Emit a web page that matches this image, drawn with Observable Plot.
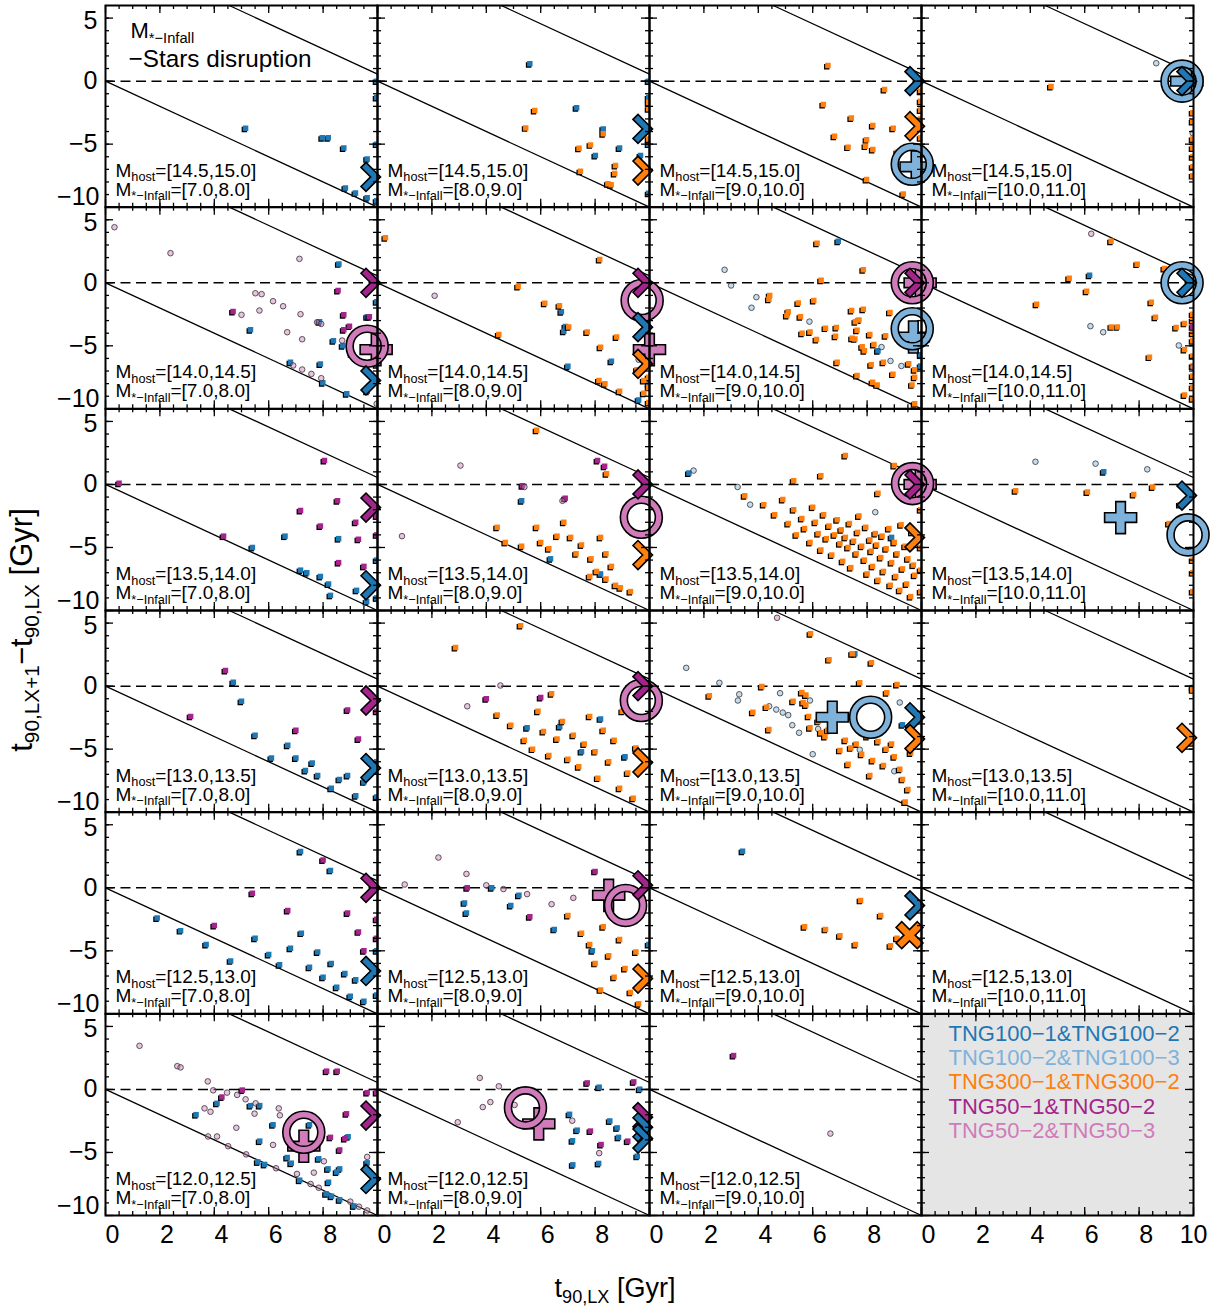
<!DOCTYPE html>
<html><head><meta charset="utf-8">
<script src="https://cdn.jsdelivr.net/npm/d3@7"></script>
<script src="https://cdn.jsdelivr.net/npm/@observablehq/plot@0.6"></script>
<style>html,body{margin:0;padding:0;background:#fff;} #chart svg{display:block;}</style>
</head><body><div id="chart"></div>
<script>
// ---------------- labels ----------------
const hostBins = ["[14.5,15.0]","[14.0,14.5]","[13.5,14.0]","[13.0,13.5]","[12.5,13.0]","[12.0,12.5]"];
const infallBins = ["[7.0,8.0]","[8.0,9.0]","[9.0,10.0]","[10.0,11.0]"];
const seriesNames = ["TNG100−1&TNG100−2","TNG100−2&TNG100−3","TNG300−1&TNG300−2","TNG50−1&TNG50−2","TNG50−2&TNG50−3"];
const xDomain = [0, 10];
const yDomain = [-10, 6];
const diagOffsets = [0, 10.55];
const xMajor = [0, 2, 4, 6, 8, 10];
const yMajor = [-10, -5, 0, 5];

// ---------------- data: [col, row, t90_LX, delta] ----------------
const tng100_12 = [
 [0,0,5.15,-3.74],[0,0,7.97,-4.5],[0,0,8.19,-4.5],[0,0,8.76,-5.3],[0,0,9.62,-6.17],[0,0,8.82,-8.47],[0,0,9.19,-8.87],[0,0,9.62,-9.26],[0,0,9.97,0],[0,0,9.97,-1.3],[0,0,9.97,-5.0],[0,0,9.97,-9.5],
 [1,0,5.6,1.37],[1,0,7.32,-2.12],[1,0,8.3,-3.79],[1,0,8.9,-5.3],[1,0,8.01,-5.9],[1,0,9.67,-5.9],[1,0,9.97,0],[1,0,9.97,-1.3],[1,0,9.97,-5.0],[1,0,9.97,-8.9],
 [0,1,8.58,1.5],[0,1,5.33,-3.73],[0,1,7.87,-3.1],[0,1,8.38,-4.6],[0,1,8.72,-5.0],[0,1,9.05,-5.64],[0,1,9.62,-2.7],[0,1,6.8,-6.3],[0,1,7.9,-6.45],[0,1,7.99,-7.94],[0,1,8.87,-8.81],[0,1,9.62,-8.6],[0,1,9.97,-1.5],[0,1,9.97,-6.5],
 [1,1,6.76,-2.3],[1,1,6.91,-3.47],[1,1,6.85,-3.84],[1,1,8.6,-6.22],[1,1,7.0,-6.62],[1,1,9.6,-9.29],[1,1,9.97,-2.6],[1,1,9.97,-3.1],[1,1,9.97,-8.0],
 [2,1,6.94,3.3],[2,1,8.4,-5.4],[2,1,9.97,-5.7],[2,1,9.97,-6.6],
 [3,1,6.18,0.6],
 [0,2,5.4,-5.0],[0,2,6.6,-4.1],[0,2,8.57,-4.3],[0,2,7.17,-6.8],[0,2,7.4,-7.0],[0,2,7.9,-7.3],[0,2,8.2,-7.9],[0,2,9.23,-8.4],[0,2,8.27,-8.8],[0,2,9.6,-9.3],[0,2,9.97,-6.0],[0,2,9.97,-9.0],
 [1,2,6.36,-5.9],[1,2,8.2,-7.1],[1,2,5.3,-1.3],
 [2,2,8.9,-4.2],[2,2,1.45,0.9],
 [3,2,6.7,1.0],
 [0,3,4.7,0.3],[0,3,5.0,-1.2],[0,3,5.5,-3.9],[0,3,6.1,-5.7],[0,3,6.7,-4.7],[0,3,7.0,-5.7],[0,3,7.35,-6.7],[0,3,7.6,-6.1],[0,3,7.8,-7.1],[0,3,8.3,-8.1],[0,3,8.6,-7.4],[0,3,8.9,-7.1],[0,3,9.2,-8.7],[0,3,9.5,-7.6],[0,3,9.97,-6.0],[0,3,9.97,-8.8],
 [1,3,6.7,-3.2],[1,3,7.5,-5.2],[1,3,8.2,-2.6],[1,3,9.1,-5.6],[1,3,5.5,-3.3],
 [2,3,7.55,2.56],[2,3,9.3,-3.07],
 [3,3,9.97,-0.1],
 [0,4,7.17,2.88],[0,4,8.27,1.38],[0,4,1.9,-2.4],[0,4,2.76,-3.4],[0,4,3.7,-4.5],[0,4,4.6,-5.8],[0,4,5.5,-4.0],[0,4,6.0,-5.3],[0,4,6.4,-6.1],[0,4,6.8,-4.8],[0,4,7.2,-3.6],[0,4,7.5,-6.3],[0,4,7.8,-5.1],[0,4,8.0,-7.1],[0,4,8.3,-6.0],[0,4,8.5,-7.9],[0,4,8.8,-6.8],[0,4,9.0,-8.6],[0,4,9.2,-7.3],[0,4,9.5,-9.0],[0,4,9.97,-5],[0,4,9.97,-8.5],
 [1,4,3.2,-1.2],[1,4,3.27,-2.0],[1,4,4.2,0.0],[1,4,5.2,-0.6],[1,4,4.9,-1.4],[1,4,6.5,-3.3],[1,4,7.9,-5.0],[1,4,9.97,-4.5],
 [2,4,3.42,2.9],
 [0,5,3.33,-2.0],[0,5,4.1,-1.1],[0,5,5.33,-1.28],[0,5,5.67,-1.28],[0,5,6.16,-2.8],[0,5,5.67,-4.1],[0,5,5.6,-5.75],[0,5,5.85,-5.95],[0,5,6.68,-5.4],[0,5,6.83,-5.85],[0,5,7.14,-7.2],[0,5,7.84,-5.5],[0,5,8.18,-6.3],[0,5,8.2,-7.36],[0,5,8.5,-6.55],[0,5,8.61,-6.3],[0,5,8.11,-8.28],[0,5,8.31,-8.47],[0,5,8.61,-8.76],[0,5,8.92,-3.75],[0,5,9.13,-9.24],[0,5,9.62,-5.82],[0,5,7.5,-2.8],
 [1,5,8.15,0.18],[1,5,9.64,0.02],[1,5,7.06,-1.97],[1,5,7.34,-3.23],[1,5,7.17,-4.07],[1,5,8.54,-2.5],[1,5,8.81,-3.05],[1,5,8.86,-3.8],[1,5,7.18,-5.98],[1,5,8.13,-5.87],[1,5,9.55,-5.3]
];
const tng100_23 = [
 [3,0,8.63,1.42],[3,0,9.97,-4.13],
 [2,1,2.76,1.03],[2,1,3.0,-0.21],[2,1,3.93,-1.14],[2,1,3.75,-1.98],[2,1,5.88,-3.08],[2,1,8.53,-5.1],[2,1,8.86,-6.2],[2,1,9.26,-6.6],
 [3,1,6.21,-3.44],[3,1,6.68,-3.92],[3,1,9.46,-4.97],
 [2,2,1.62,1.1],[2,2,3.24,-0.2],[2,2,3.7,-1.6],[2,2,8.3,-2.2],
 [3,2,4.19,1.8],[3,2,6.4,1.65],[3,2,8.3,1.2],
 [2,3,1.35,1.45],[2,3,2.57,0.26],[2,3,3.3,-0.65],[2,3,3.25,-1.14],[2,3,4.8,-0.56],[2,3,5.9,-1.14],[2,3,4.4,-1.6],[2,3,4.66,-1.86],[2,3,4.9,-2.1],[2,3,5.1,-2.3],[2,3,5.25,-3.1],[2,3,5.5,-3.7],[2,3,6.0,-5.4],[2,3,6.2,-3.4],[2,3,9.2,-1.3],[2,3,9.0,-6.75],[2,3,7.73,-5.05]
];
const tng300 = [
 [1,0,5.78,-2.33],[1,0,5.45,-3.71],[1,0,8.3,-4.18],[1,0,7.41,-5.32],[1,0,7.83,-5.06],[1,0,7.46,-7.15],[1,0,8.75,-6.7],[1,0,8.72,-7.33],[1,0,8.47,-8.15],[1,0,8.59,-8.23],[1,0,9.97,-1.7],[1,0,9.97,-2.2],[1,0,9.97,-4.6],
 [2,0,6.56,1.24],[2,0,8.64,-0.67],[2,0,6.39,-1.86],[2,0,7.42,-2.92],[2,0,8.21,-3.52],[2,0,8.96,-3.74],[2,0,6.8,-4.37],[2,0,7.98,-4.66],[2,0,7.3,-5.24],[2,0,7.94,-5.16],[2,0,8.21,-5.43],[2,0,9.11,-5.64],[2,0,7.98,-7.81],[2,0,9.33,-8.95],[2,0,9.97,-0.8],[2,0,9.97,-1.6],[2,0,9.97,-2.3],[2,0,9.97,-3.0],[2,0,9.97,-4.5],
 [3,0,4.76,-0.43],[3,0,9.97,-2.5],[3,0,9.97,-3.2],[3,0,9.97,-4.6],[3,0,9.97,-5.3],[3,0,9.97,-6.0],[3,0,9.97,-6.8],[3,0,9.97,-7.5],
 [1,1,0.29,3.57],[1,1,8.17,1.85],[1,1,5.17,-0.29],[1,1,6.15,-1.62],[1,1,6.69,-1.83],[1,1,7.03,-3.5],[1,1,4.46,-4.1],[1,1,7.71,-3.9],[1,1,8.79,-4.3],[1,1,8.2,-5.11],[1,1,8.14,-7.75],[1,1,8.36,-8.01],[1,1,8.9,-8.6],[1,1,9.79,-8.76],[1,1,9.54,-6.9],[1,1,9.79,-7.75],[1,1,9.97,-7.5],[1,1,9.97,-8.3],[1,1,9.97,-9.5],
 [2,1,6.16,3.14],[2,1,7.86,1.03],[2,1,6.31,0.2],[2,1,4.42,-1.0],[2,1,4.39,-1.3],[2,1,5.47,-1.6],[2,1,6.04,-1.4],[2,1,5.1,-2.3],[2,1,5.05,-2.6],[2,1,5.55,-2.7],[2,1,7.43,-2.2],[2,1,7.86,-2.1],[2,1,8.84,-2.35],[2,1,7.57,-3.1],[2,1,7.7,-2.95],[2,1,5.61,-4.0],[2,1,5.9,-3.9],[2,1,6.14,-4.5],[2,1,6.47,-3.6],[2,1,6.87,-3.55],[2,1,6.84,-4.25],[2,1,7.63,-3.76],[2,1,7.45,-4.4],[2,1,7.55,-4.45],[2,1,8.1,-4.1],[2,1,8.25,-4.9],[2,1,7.82,-5.08],[2,1,7.9,-5.4],[2,1,8.68,-4.2],[2,1,8.6,-6.3],[2,1,8.15,-6.5],[2,1,6.9,-6.3],[2,1,8.95,-7.25],[2,1,7.63,-7.36],[2,1,8.2,-7.9],[2,1,8.37,-8.1],[2,1,9.53,-6.43],[2,1,9.75,-6.9],[2,1,9.75,-7.5],[2,1,9.65,-8.1],[2,1,9.75,-9.6],
 [3,1,6.97,3.3],[3,1,7.93,1.48],[3,1,8.93,1.13],[3,1,5.43,0.37],[3,1,6.07,-0.67],[3,1,4.23,-1.7],[3,1,8.45,-1.55],[3,1,8.6,-2.74],[3,1,6.98,-3.5],[3,1,7.2,-3.5],[3,1,9.36,-3.55],[3,1,9.67,-3.22],[3,1,9.67,-5.3],[3,1,8.38,-5.9],[3,1,9.67,-8.9],[3,1,9.97,-2.5],[3,1,9.97,-3.0],[3,1,9.97,-4.0],[3,1,9.97,-4.6],[3,1,9.97,-5.8],[3,1,9.97,-6.6],[3,1,9.97,-7.4],[3,1,9.97,-8.3],[3,1,9.97,-9.2],
 [1,2,5.85,4.3],[1,2,8.42,0.85],[1,2,4.4,-3.4],[1,2,4.7,-4.6],[1,2,5.3,-4.9],[1,2,5.85,-3.4],[1,2,6.0,-4.6],[1,2,6.3,-5.1],[1,2,6.6,-4.1],[1,2,6.85,-3.0],[1,2,7.1,-4.2],[1,2,7.3,-5.5],[1,2,7.5,-4.8],[1,2,7.85,-5.9],[1,2,8.2,-4.2],[1,2,8.4,-5.5],[1,2,7.8,-7.3],[1,2,8.05,-6.9],[1,2,8.4,-7.5],[1,2,8.75,-8.0],[1,2,8.93,-8.2],[1,2,9.3,-8.5],[1,2,8.6,-6.5],
 [2,2,3.5,-0.9],[2,2,4.2,-1.6],[2,2,4.6,-2.4],[2,2,4.9,-1.2],[2,2,5.1,-3.1],[2,2,5.3,-2.0],[2,2,5.4,-4.0],[2,2,5.6,-2.7],[2,2,5.7,-3.5],[2,2,5.9,-4.6],[2,2,6.0,-1.8],[2,2,6.1,-3.0],[2,2,6.2,-3.9],[2,2,6.3,-5.2],[2,2,6.4,-2.4],[2,2,6.5,-4.3],[2,2,6.6,-3.3],[2,2,6.7,-5.6],[2,2,6.8,-4.0],[2,2,6.9,-2.8],[2,2,7.0,-4.7],[2,2,7.05,-3.6],[2,2,7.1,-6.1],[2,2,7.2,-4.2],[2,2,7.3,-5.0],[2,2,7.35,-3.1],[2,2,7.4,-6.6],[2,2,7.5,-4.5],[2,2,7.6,-5.5],[2,2,7.65,-3.8],[2,2,7.7,-2.5],[2,2,7.8,-4.9],[2,2,7.9,-6.0],[2,2,7.95,-3.4],[2,2,8.0,-7.1],[2,2,8.1,-4.4],[2,2,8.15,-5.3],[2,2,8.2,-6.5],[2,2,8.3,-3.9],[2,2,8.35,-4.8],[2,2,8.4,-7.6],[2,2,8.5,-5.8],[2,2,8.55,-4.1],[2,2,8.6,-6.9],[2,2,8.7,-5.1],[2,2,8.8,-3.5],[2,2,8.85,-8.0],[2,2,8.9,-6.2],[2,2,9.0,-4.6],[2,2,9.05,-7.3],[2,2,9.1,-5.5],[2,2,9.2,-8.4],[2,2,9.25,-3.2],[2,2,9.3,-6.7],[2,2,9.4,-4.9],[2,2,9.45,-7.9],[2,2,9.5,-5.9],[2,2,9.6,-8.9],[2,2,9.65,-3.8],[2,2,9.7,-6.4],[2,2,9.75,-7.2],[2,2,6.3,0.7],[2,2,7.2,2.3],[2,2,8.4,-0.7],[2,2,9.0,1.5],[2,2,5.3,0.3],[2,2,9.97,-2.0],[2,2,9.97,-5.0],[2,2,9.97,-6.8],[2,2,9.97,-8.5],
 [3,2,3.46,-0.5],[3,2,6.1,-0.6],[3,2,7.8,-0.8],[3,2,9.1,-3.1],[3,2,9.5,-1.6],[3,2,8.5,-0.2],[3,2,9.97,-6],[3,2,9.97,-7],[3,2,9.97,-8.5],
 [1,3,2.87,3.06],[1,3,5.26,4.8],[1,3,6.4,-0.6],[1,3,5.9,-2.0],[1,3,4.4,-2.3],[1,3,4.9,-3.1],[1,3,5.4,-4.3],[1,3,5.7,-5.0],[1,3,6.1,-3.6],[1,3,6.3,-5.5],[1,3,6.6,-4.2],[1,3,6.8,-2.8],[1,3,7.0,-5.8],[1,3,7.2,-3.9],[1,3,7.4,-6.4],[1,3,7.6,-4.6],[1,3,7.8,-2.4],[1,3,8.0,-5.2],[1,3,8.1,-7.3],[1,3,8.3,-3.5],[1,3,8.5,-6.0],[1,3,8.7,-4.3],[1,3,8.9,-8.1],[1,3,9.0,-2.0],[1,3,9.2,-6.9],[1,3,9.4,-8.9],[1,3,9.5,-4.9],
 [2,3,5.92,4.15],[2,3,7.45,2.56],[2,3,6.6,2.1],[2,3,8.16,1.85],[2,3,4.13,-0.03],[2,3,7.73,0.26],[2,3,9.1,0.13],[2,3,8.72,-0.53],[2,3,2.2,-0.77],[2,3,5.6,-0.5],[2,3,5.75,-0.7],[2,3,5.65,-1.3],[2,3,5.75,-1.5],[2,3,3.8,-2.07],[2,3,4.3,-1.67],[2,3,4.39,-3.44],[2,3,5.28,-1.2],[2,3,5.85,-2.4],[2,3,5.9,-3.3],[2,3,6.2,-2.8],[2,3,6.3,-3.7],[2,3,6.55,-3.5],[2,3,6.45,-4.0],[2,3,7.2,-4.3],[2,3,7.4,-4.9],[2,3,7.6,-4.6],[2,3,7.8,-5.4],[2,3,8.0,-4.0],[2,3,8.2,-5.9],[2,3,8.4,-4.4],[2,3,8.6,-6.3],[2,3,8.7,-5.0],[2,3,8.9,-4.6],[2,3,9.0,-5.6],[2,3,9.2,-6.6],[2,3,9.3,-7.4],[2,3,9.5,-8.2],[2,3,9.6,-5.3],[2,3,9.4,-9.2],[2,3,7.3,-6.2],[2,3,7.0,-5.1],[2,3,8.1,-7.1],
 [3,3,9.97,-0.3],[3,3,9.97,-4.5],
 [1,4,7.0,-2.2],[1,4,7.5,-3.6],[1,4,7.8,-4.5],[1,4,8.0,-6.0],[1,4,8.3,-3.1],[1,4,8.5,-5.4],[1,4,8.7,-7.1],[1,4,8.9,-4.1],[1,4,9.1,-6.4],[1,4,9.3,-8.3],[1,4,9.5,-5.1],[1,4,9.6,-9.2],[1,4,8.2,-8.1],[1,4,9.97,-7.5],
 [2,4,5.7,-3.1],[2,4,6.47,-3.3],[2,4,7.57,-4.5],[2,4,7.76,-1.0],[2,4,8.5,-2.2],[2,4,8.86,-4.6],[2,4,9.1,-4.0],[2,4,7.0,-3.8]
];
const tng50_12 = [
 [0,1,4.69,-2.28],[0,1,8.55,-0.61],[0,1,8.76,-2.54],[0,1,8.76,-3.73],[0,1,8.97,-3.44],[0,1,9.7,-2.7],
 [3,1,9.97,-3.5],
 [0,2,0.5,0.1],[0,2,8.05,1.9],[0,2,4.34,-4.1],[0,2,7.17,-2.07],[0,2,8.53,-1.3],[0,2,7.9,-3.3],[0,2,9.2,-3.0],[0,2,9.3,-4.35],[0,2,8.57,-6.2],[0,2,9.5,-6.5],[0,2,9.97,-2.5],[0,2,9.97,-4.0],
 [1,2,8.09,1.9],[1,2,8.35,1.45],[1,2,5.33,-0.1],[1,2,6.9,-1.1],
 [0,3,4.41,1.24],[0,3,3.13,-2.4],[0,3,8.9,-1.9],[0,3,9.3,-4.2],[0,3,7.0,-3.5],[0,3,9.97,-2.0],
 [1,3,6.0,-0.9],[1,3,4.0,-1.0],
 [0,4,8.0,2.2],[0,4,5.4,-0.44],[0,4,4.0,-3.0],[0,4,6.7,-1.8],[0,4,8.9,-2.0],[0,4,9.3,-3.5],[0,4,9.5,-5.0],[0,4,9.97,-2.5],[0,4,9.97,-4.0],
 [1,4,3.3,0.0],[1,4,5.6,-2.3],[1,4,8.0,1.3],
 [0,5,5.03,-0.05],[0,5,4.28,-0.6],[0,5,8.13,1.45],[0,5,8.52,1.45],[0,5,8.86,-1.93],[0,5,8.8,-3.9],[0,5,8.61,-4.8],[0,5,8.27,-3.8],[0,5,9.62,-0.25],[0,5,9.97,-0.25],
 [1,5,7.71,0.52],[1,5,9.42,0.6],[1,5,7.83,-3.3],[1,5,8.22,-4.37],[1,5,9.2,-4.1],
 [2,5,3.09,2.69]
];
const tng50_23 = [
 [0,1,0.33,4.41],[0,1,2.39,2.35],[0,1,7.13,1.9],[0,1,5.51,-0.83],[0,1,5.74,-0.9],[0,1,5.0,-2.54],[0,1,5.66,-2.2],[0,1,6.16,-1.46],[0,1,6.53,-1.86],[0,1,7.17,-2.49],[0,1,6.68,-3.92],[0,1,7.23,-4.48],[0,1,7.78,-3.13],[0,1,7.93,-3.26],[0,1,8.7,-4.58],[0,1,6.9,-6.56],[0,1,7.23,-6.88],[0,1,7.57,-7.23],[0,1,7.93,-7.57],[0,1,9.97,-9.6],
 [1,1,2.1,-1.03],[1,1,9.6,-6.1],
 [3,1,6.24,3.89],[3,1,9.97,-6.7],
 [1,2,3.05,1.5],[1,2,0.9,-4.1],[1,2,5.4,-0.2],[1,2,6.8,-1.3],
 [2,3,4.69,5.42],
 [1,3,4.52,0.05],[1,3,3.3,-1.6],
 [1,4,1.0,0.26],[1,4,2.24,2.4],[1,4,3.27,1.1],[1,4,4.0,0.2],[1,4,4.63,-0.1],[1,4,5.5,-0.5],[1,4,6.4,-1.3],[1,4,7.2,-0.8],
 [0,5,1.25,3.46],[0,5,2.64,1.85],[0,5,2.76,1.75],[0,5,3.76,0.64],[0,5,3.96,-0.07],[0,5,4.47,-0.25],[0,5,4.84,-0.43],[0,5,5.15,-0.78],[0,5,5.52,-1.1],[0,5,5.48,-1.92],[0,5,6.37,-1.5],[0,5,6.41,-2.05],[0,5,3.64,-1.5],[0,5,3.86,-1.77],[0,5,3.77,-3.73],[0,5,4.1,-3.73],[0,5,4.81,-3.04],[0,5,4.51,-4.5],[0,5,5.17,-5.15],[0,5,6.16,-4.4],[0,5,6.27,-6.25],[0,5,7.04,-6.7],[0,5,7.54,-7.5],[0,5,7.84,-7.8],[0,5,7.66,-6.6],[0,5,8.03,-5.7],[0,5,9.0,-8.9],[0,5,9.32,-9.3],[0,5,9.62,-9.6],[0,5,9.62,-5.35],
 [1,5,3.76,0.92],[1,5,4.46,0.25],[1,5,4.15,-1.0],[1,5,3.87,-1.4],[1,5,5.04,-1.23],[1,5,2.95,-2.6],[1,5,7.16,-2.48],[1,5,8.15,-5.05],
 [2,5,6.65,-3.5]
];
// summary markers
const chevrons = [ // [c, r, s, delta] at the right edge
 [0,0,0,-7.6],[1,0,0,-3.79],[1,0,2,-7.1],[2,0,0,0],[2,0,2,-3.58],[3,0,0,0],
 [0,1,3,0],[0,1,0,-7.75],[1,1,3,0],[1,1,0,-3.52],[1,1,2,-6.43],[2,1,3,0],[3,1,0,0],
 [0,2,3,-1.83],[0,2,0,-8.0],[1,2,3,0],[1,2,2,-5.6],[2,2,3,0],[2,2,2,-4.2],[3,2,0,-0.88],
 [0,3,3,-1.14],[0,3,0,-6.5],[1,3,3,0],[1,3,2,-6.06],[2,3,0,-2.47],[2,3,2,-4.2],[3,3,2,-4.1],
 [0,4,3,0],[0,4,0,-6.6],[1,4,3,0.2],[1,4,2,-7.2],[2,4,0,-1.4],
 [0,5,3,-2.07],[0,5,0,-7.1],[1,5,3,-2.2],[1,5,0,-3.0],[1,5,0,-3.9]
];
const rings = [ // [c, r, s, t90, delta]
 [2,0,1,9.66,-6.6],[3,0,1,9.58,0],[0,1,4,9.62,-5.03],[1,1,4,9.73,-1.4],[2,1,4,9.66,0],[2,1,1,9.66,-3.65],[3,1,1,9.58,0],
 [1,2,4,9.7,-2.6],[2,2,4,9.67,0.07],[3,2,1,9.8,-4.0],[1,3,4,9.7,-1.14],[2,3,1,8.13,-2.47],[1,4,4,9.12,-1.4],[0,5,4,7.29,-3.4],[1,5,4,5.44,-1.46]
];
const pluses = [ // [c, r, s, t90, delta]
 [2,0,1,9.8,-6.8],[3,0,1,9.75,0],[0,1,4,9.95,-5.3],[1,1,4,10.0,-5.3],[2,1,1,9.7,-4.3],[2,1,4,9.95,0],[2,2,4,9.95,0],
 [3,2,1,7.32,-2.63],[2,3,1,6.72,-2.47],[1,4,4,8.5,-0.6],[0,5,4,7.29,-4.5],[1,5,4,5.93,-2.73]
];
const crosses = [ // [c, r, s, t90, delta]
 [2,4,2,9.56,-3.76]
];

// ---------------- styles ----------------
const seriesColors = ["#1f77b4","#7fb2da","#ff7f0e","#a3248a","#d07bba"];
const seriesIsSquare = [true,false,true,true,false];
const W = 1227, H = 1306, mL = 105, mR = 34, mT = 5, mB = 91;
const pw = (W - mL - mR) / 4, ph = (H - mT - mB) / 6;
const FONT = "'Liberation Sans', Arial, Helvetica, sans-serif";

const cells = [];
for (let r = 0; r < 6; r++) for (let c = 0; c < 4; c++) cells.push({c, r});
const legendCell = {c: 3, r: 5};
const lineCells = cells.filter(d => !(d.c === legendCell.c && d.r === legendCell.r));
const diagData = lineCells.flatMap(cell => diagOffsets.map(k => {
  const x1 = Math.max(xDomain[0], k - yDomain[1]), x2 = Math.min(xDomain[1], k - yDomain[0]);
  return {...cell, x1, y1: k - x1, x2, y2: k - x2};
}));
const toRows = (arr, i) => arr.map(([c, r, x, y]) => ({c, r, x, y, s: seriesNames[i]}));
const series = [tng100_12, tng100_23, tng300, tng50_12, tng50_23].map(toRows);
const chevData = chevrons.map(([c, r, s, y]) => ({c, r, y, s: seriesNames[s]}));
const bigRows = arr => arr.map(([c, r, s, x, y]) => ({c, r, x, y, s: seriesNames[s]}));

// custom symbols
const chevronSym = {draw(ctx) {
  ctx.moveTo(-16.5, -9.5); ctx.lineTo(-11.5, -14.5); ctx.lineTo(3, 0); ctx.lineTo(-11.5, 14.5);
  ctx.lineTo(-16.5, 9.5); ctx.lineTo(-6.9, 0); ctx.closePath();
}};
const ringSym = {draw(ctx) {
  ctx.moveTo(21, 0); ctx.arc(0, 0, 21, 0, 2 * Math.PI);
  ctx.moveTo(14, 0); ctx.arc(0, 0, 14, 0, 2 * Math.PI, true); ctx.closePath();
}};
function plusPath(ctx, L, T, rot) {
  const pts = [[-T,-L],[T,-L],[T,-T],[L,-T],[L,T],[T,T],[T,L],[-T,L],[-T,T],[-L,T],[-L,-T],[-T,-T]];
  const c = Math.cos(rot), s = Math.sin(rot);
  pts.forEach(([x, y], i) => { const X = x * c - y * s, Y = x * s + y * c; i ? ctx.lineTo(X, Y) : ctx.moveTo(X, Y); });
  ctx.closePath();
}
const plusSym = {draw(ctx) { plusPath(ctx, 16, 4.8, 0); }};
const timesSym = {draw(ctx) { plusPath(ctx, 15, 4, Math.PI / 4); }};

const F = {fx: "c", fy: "r"};
const pointMarks = series.flatMap((d, i) => seriesIsSquare[i] ? [
  Plot.dot(d, {...F, x: "x", y: "y", symbol: "square", r: 3.1, fill: "black", dx: -1.2, dy: 1.2, clip: true}),
  Plot.dot(d, {...F, x: "x", y: "y", symbol: "square", r: 3.1, fill: "s", clip: true})
] : [
  Plot.dot(d, {...F, x: "x", y: "y", r: 2.8, fill: "s", fillOpacity: 0.45, stroke: "#333", strokeWidth: 0.8, clip: true})
]);

const fmt = v => v < 0 ? "\u2212" + Math.abs(v) : String(v);
const xLabelData = d3.range(4).flatMap(c => (c < 3 ? xMajor.slice(0, -1) : xMajor).map(v => ({c, r: 5, v})));
const yLabelData = d3.range(6).flatMap(r => yMajor.map(v => ({c: 0, r, v})));
const panelLabelCells = cells.filter(d => !(d.c === legendCell.c && d.r === legendCell.r));
const xMinor = d3.range(1, 20).map(i => i / 2);
const yMinor = d3.range(yDomain[0] + 1, yDomain[1]);
const tickStyle = {stroke: "black", strokeWidth: 1.3};
const legendText = seriesNames.join("|");

const plot = Plot.plot({
  width: W, height: H,
  marginLeft: mL, marginRight: mR, marginTop: mT, marginBottom: mB,
  style: `font-family: ${FONT}; overflow: visible; background: white;`,
  fx: {domain: d3.range(4), padding: 0, round: false, axis: null},
  fy: {domain: d3.range(6), padding: 0, round: false, axis: null},
  x: {domain: xDomain, axis: null},
  y: {domain: yDomain, axis: null},
  color: {domain: seriesNames, range: seriesColors},
  marks: [
    Plot.rect([legendCell], {...F, x1: () => xDomain[0], x2: () => xDomain[1], y1: () => yDomain[0], y2: () => yDomain[1], fill: "#e5e5e5"}),
    Plot.link(diagData, {...F, x1: "x1", y1: "y1", x2: "x2", y2: "y2", stroke: "black", strokeWidth: 1.3}),
    Plot.ruleY(lineCells, {...F, y: () => 0, stroke: "black", strokeWidth: 1.5, strokeDasharray: "10,5.5"}),
    ...pointMarks,
    Plot.dot(bigRows(pluses), {...F, x: "x", y: "y", symbol: plusSym, fill: "s", stroke: "black", strokeWidth: 1.6}),
    Plot.dot(bigRows(rings), {...F, x: "x", y: "y", symbol: ringSym, fill: "s", stroke: "black", strokeWidth: 1.6}),
    Plot.dot(chevData, {...F, x: () => xDomain[1], y: "y", symbol: chevronSym, fill: "s", stroke: "black", strokeWidth: 1.6}),
    Plot.dot(bigRows(crosses), {...F, x: "x", y: "y", symbol: timesSym, fill: "s", stroke: "black", strokeWidth: 1.6}),
    Plot.frame({stroke: "black", strokeWidth: 2}),
    Plot.tickX(xMinor, {x: d => d, insetBottom: ph - 4, ...tickStyle}),
    Plot.tickX(xMinor, {x: d => d, insetTop: ph - 4, ...tickStyle}),
    Plot.tickX(xMajor, {x: d => d, insetBottom: ph - 8, ...tickStyle}),
    Plot.tickX(xMajor, {x: d => d, insetTop: ph - 8, ...tickStyle}),
    Plot.tickY(yMinor, {y: d => d, insetRight: pw - 4, ...tickStyle}),
    Plot.tickY(yMinor, {y: d => d, insetLeft: pw - 4, ...tickStyle}),
    Plot.tickY(yMajor, {y: d => d, insetRight: pw - 8, ...tickStyle}),
    Plot.tickY(yMajor, {y: d => d, insetLeft: pw - 8, ...tickStyle}),
    // tick labels
    Plot.text(xLabelData, {...F, x: "v", text: d => fmt(d.v), frameAnchor: "bottom", dy: 28, dx: 14, textAnchor: "end", fontSize: 25, fill: "black"}),
    Plot.text(yLabelData.filter(d => d.v !== -10 && d.v !== 5), {...F, y: "v", text: d => fmt(d.v), frameAnchor: "left", dx: -8, textAnchor: "end", fontSize: 25, fill: "black"}),
    Plot.text(yLabelData.filter(d => d.v === 5), {...F, y: "v", text: d => fmt(d.v), frameAnchor: "left", dx: -8, dy: 3, textAnchor: "end", fontSize: 25, fill: "black"}),
    Plot.text(yLabelData.filter(d => d.v === -10), {...F, y: "v", text: d => fmt(d.v), frameAnchor: "left", dx: -6, dy: -10, textAnchor: "end", fontSize: 25, fill: "black"}),
    // panel labels (two lines in one text; "|" separates lines)
    Plot.text(panelLabelCells, {...F, text: d => "M_{host}=" + hostBins[d.r] + "|M_{*−Infall}=" + infallBins[d.c], frameAnchor: "bottom-left", dx: 10, dy: -11.5, lineAnchor: "bottom", fontSize: 19, fill: "black"}),
    // annotation in first panel
    Plot.text([{c: 0, r: 0}], {...F, text: () => "M_{*−Infall}", frameAnchor: "top-left", dx: 25, dy: 32, lineAnchor: "bottom", fontSize: 22, fill: "black"}),
    Plot.text([{c: 0, r: 0}], {...F, text: () => "\u2212Stars disruption", frameAnchor: "top-left", dx: 23, dy: 61, lineAnchor: "bottom", fontSize: 24.3, fill: "black"}),
    // legend (one text, one line per series)
    Plot.text([legendCell], {...F, text: () => legendText, frameAnchor: "top-left", dx: 27, dy: 26.7, lineAnchor: "bottom", fontSize: 22, fill: "black"})
  ]
});

document.getElementById("chart").appendChild(plot);
const svg = d3.select(plot.tagName.toLowerCase() === "svg" ? plot : plot.querySelector("svg"));

// axis titles
svg.append("text").attr("x", 615).attr("y", 1297).attr("text-anchor", "middle").attr("font-size", 27).attr("fill", "black")
  .text("t_{90,LX} [Gyr]");
svg.append("text").attr("transform", "translate(32,630) rotate(-90)").attr("text-anchor", "middle").attr("font-size", 31).attr("fill", "black")
  .text("t_{90,LX+1}\u2212t_{90,LX} [Gyr]");

// rich text: "_{...}" -> subscript, "|" -> new line
function richify(el, lineGap, colors, anchorTop) {
  const s = el.textContent;
  if (!s.includes("_{") && !s.includes("|")) return;
  const fs = parseFloat(getComputedStyle(el).fontSize) || 20;
  const lines = s.split("|");
  while (el.firstChild) el.removeChild(el.firstChild);
  const shift = fs * 0.24;
  let pos = 0;
  lines.forEach((line, j) => {
    const target = anchorTop ? j * lineGap : (j - (lines.length - 1)) * lineGap;
    const parts = [];
    const re = /_\{([^}]*)\}/g; let last = 0, m;
    while ((m = re.exec(line))) { if (m.index > last) parts.push({t: line.slice(last, m.index)}); parts.push({t: m[1], sub: true}); last = re.lastIndex; }
    if (last < line.length) parts.push({t: line.slice(last)});
    parts.forEach((p, k) => {
      const ts = document.createElementNS("http://www.w3.org/2000/svg", "tspan");
      ts.textContent = p.t;
      const want = target + (p.sub ? shift : 0);
      if (k === 0 && j > 0) ts.setAttribute("x", el.getAttribute("x") || "0");
      if (want !== pos) { ts.setAttribute("dy", (want - pos).toFixed(2)); pos = want; }
      if (p.sub) ts.setAttribute("font-size", (fs * 0.67).toFixed(1));
      if (colors) ts.setAttribute("fill", colors[j]);
      el.appendChild(ts);
    });
  });
}
svg.selectAll("text").each(function () {
  if (this.textContent === legendText) richify(this, 24.4, seriesColors, true);
  else richify(this, 19, null, false);
});
</script>
</body></html>
